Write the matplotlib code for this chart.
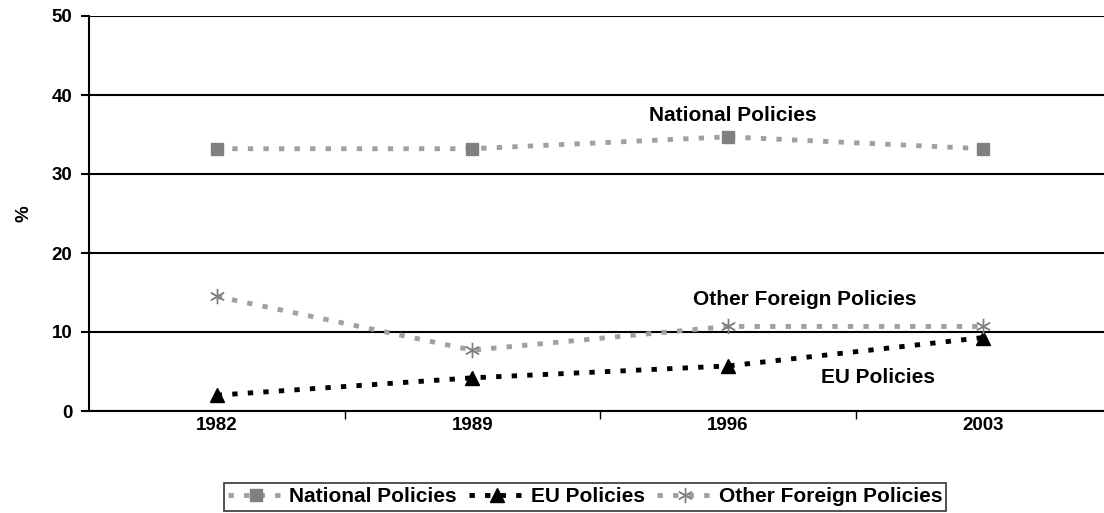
import matplotlib.pyplot as plt

plt.rcParams['font.family'] = ['Liberation Sans', 'DejaVu Sans']
plt.rcParams['font.weight'] = 'bold'

years = ['1982', '1989', '1996', '2003']
national = [33.2, 33.2, 34.7, 33.2]
eu = [2.0, 4.2, 5.7, 9.3]
other = [14.5, 7.7, 10.7, 10.7]

fig = plt.figure(figsize=(11.04, 5.13), dpi=100)
ax = fig.add_axes([89 / 1104, 102 / 513, 1022 / 1104, 395 / 513])

x = range(len(years))
dash = (0, (1.1, 2.1))
ax.plot(x, national, color='#a0a0a0', lw=3.5, linestyle=dash, marker='s', ms=9,
        mfc='#808080', mec='#808080', label='National Policies', zorder=3)
ax.plot(x, eu, color='black', lw=3.5, linestyle=dash, marker='^', ms=10,
        mfc='black', mec='black', label='EU Policies', zorder=3)
ax.plot(x, other, color='#a0a0a0', lw=3.5, linestyle=dash, marker=(6, 2, 0), ms=11,
        mfc='#808080', mec='#808080', mew=1, label='Other Foreign Policies', zorder=3)

ax.set_xlim(-0.5, 3.5)
ax.set_ylim(0, 50)
ax.set_yticks([0, 10, 20, 30, 40, 50])
ax.set_xticks(list(x))
ax.set_xticklabels(years)
ax.set_xticks([0.5, 1.5, 2.5], minor=True)
ax.tick_params(axis='x', which='major', length=0, pad=4, labelsize=13.5)
ax.tick_params(axis='x', which='minor', length=6, width=1, direction='out')
ax.tick_params(axis='y', length=6, width=1.5, direction='out', labelsize=13.5, pad=6)
ax.yaxis.grid(True, color='black', lw=1.5)
ax.set_axisbelow(True)
for s in ['top', 'right']:
    ax.spines[s].set_visible(False)
ax.spines['left'].set_linewidth(1.5)
ax.spines['bottom'].set_linewidth(1.5)
ax.set_ylabel('%', fontsize=13.5, fontweight='bold', labelpad=14)

ax.text(2.02, 37.4, 'National Policies', fontsize=15, fontweight='bold', ha='center', va='center')
ax.text(2.30, 14.1, 'Other Foreign Policies', fontsize=15, fontweight='bold', ha='center', va='center')
ax.text(2.59, 4.2, 'EU Policies', fontsize=15, fontweight='bold', ha='center', va='center')

leg = fig.legend(loc='center', bbox_to_anchor=(585 / 1104, 16 / 513), ncol=3,
                 frameon=True, fancybox=False, edgecolor='black',
                 handlelength=2.7, handletextpad=0.25, columnspacing=0.6,
                 borderpad=0.2, prop={'weight': 'bold', 'size': 15})
leg.get_frame().set_linewidth(1.2)

fig.savefig('out.png', dpi=100)
